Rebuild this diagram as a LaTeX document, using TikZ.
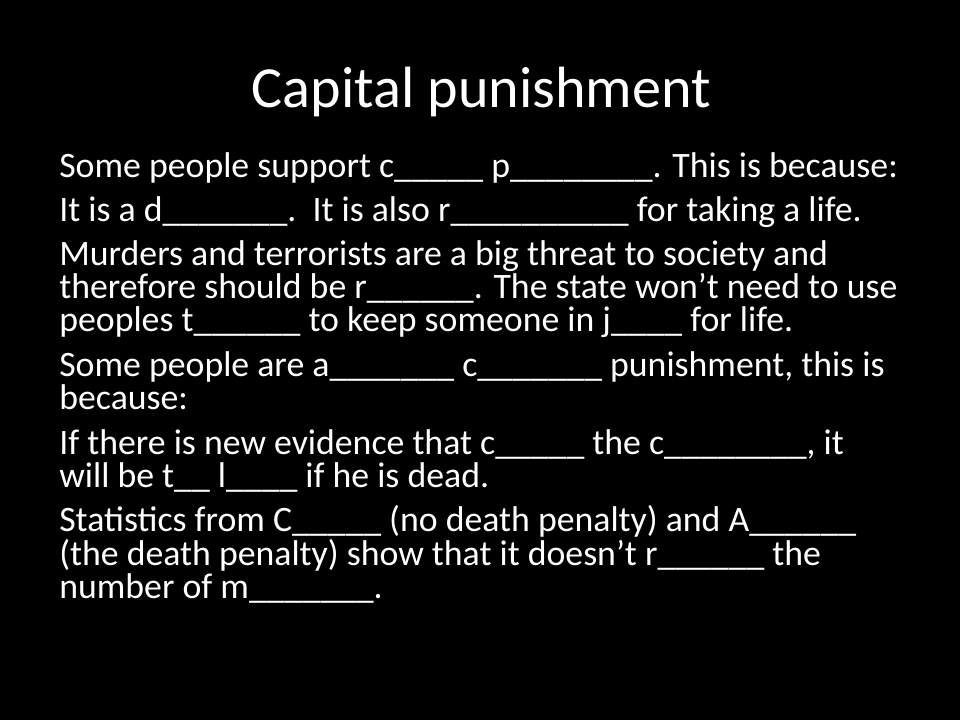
\documentclass[tikz,border=0pt]{standalone}
\usepackage{fontspec}
\setmainfont{Carlito}
\newlength\lineonew
\newlength\titlew
\newcommand\ublank[1]{\foreach\i in {1,...,#1}{\_}}
\begin{document}
\settowidth\lineonew{\fontsize{10pt}{12pt}\selectfont Some people support c\_\_\_\_\_ p\_\_\_\_\_\_\_\_. This is because:}
\settowidth\titlew{\fontsize{10pt}{12pt}\selectfont Capital punishment}
\pgfmathsetmacro\bodysize{10*629/\lineonew}
\pgfmathsetmacro\titlesize{10*344.5/\titlew}
\begin{tikzpicture}[x=1pt,y=1pt,
  body/.style={font=\fontsize{\bodysize pt}{\bodysize pt}\selectfont, text=white, anchor=base west, inner sep=0pt, outer sep=0pt},
  titlestyle/.style={font=\fontsize{\titlesize pt}{\titlesize pt}\selectfont, text=white, anchor=base, inner sep=0pt, outer sep=0pt}]
\fill[black] (0,0) rectangle (720,540);
\useasboundingbox (0,0) rectangle (720,540);
\node[titlestyle] (title) at (361,459) {Capital punishment};
\node[body] (l1) at (44.5,406.5) {Some people support c\_\_\_\_\_ p\_\_\_\_\_\_\_\_. This is because:};
\node[body] (l2) at (44.5,373.5) {It is a d\_\_\_\_\_\_\_.\ \ It is also r\_\_\_\_\_\_\_\_\_\_ for taking a life.};
\node[body] (l3) at (44.5,340.5) {Murders and terrorists are a big threat to society and};
\node[body] (l4) at (44.5,315.75) {therefore should be r\_\_\_\_\_\_. The state won’t need to use};
\node[body] (l5) at (44.5,291) {peoples t\_\_\_\_\_\_ to keep someone in j\_\_\_\_ for life.};
\node[body] (l6) at (44.5,257.25) {Some people are a\_\_\_\_\_\_\_ c\_\_\_\_\_\_\_ punishment, this is};
\node[body] (l7) at (44.5,232.5) {because:};
\node[body] (l8) at (44.5,198.75) {If there is new evidence that c\_\_\_\_\_ the c\_\_\_\_\_\_\_\_, it};
\node[body] (l9) at (44.5,174) {will be t\_\_ l\_\_\_\_ if he is dead.};
\node[body] (l10) at (44.5,141) {Statistics from C\_\_\_\_\_ (no death penalty) and A\_\_\_\_\_\_};
\node[body] (l11) at (44.5,115.5) {(the death penalty) show that it doesn’t r\_\_\_\_\_\_ the};
\node[body] (l12) at (44.5,90.75) {number of m\_\_\_\_\_\_\_.};
\end{tikzpicture}
\end{document}
